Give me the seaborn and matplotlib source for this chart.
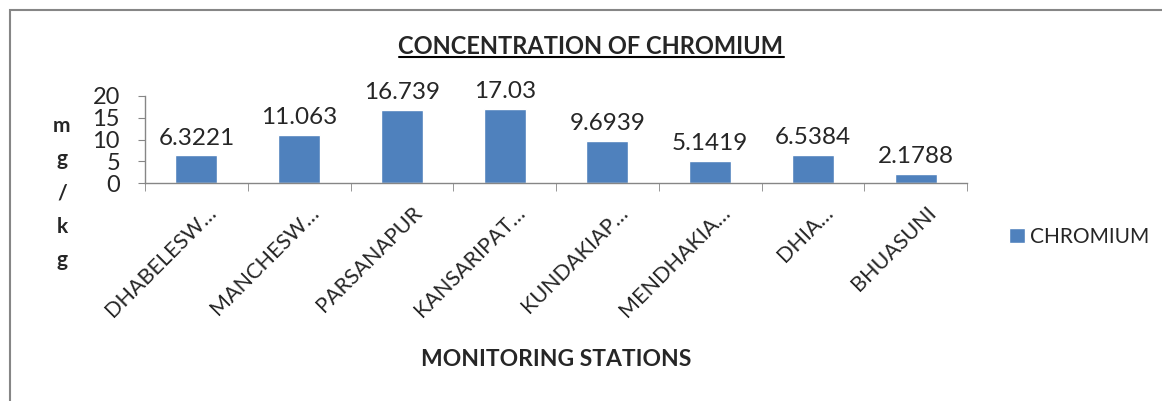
import matplotlib
matplotlib.use("Agg")
import matplotlib.pyplot as plt
import matplotlib.transforms as mtransforms
from matplotlib.patches import Rectangle
from matplotlib.lines import Line2D
import seaborn as sns
import pandas as pd

stations = ["DHABELESW…", "MANCHESW…", "PARSANAPUR", "KANSARIPAT…",
            "KUNDAKIAP…", "MENDHAKIA…", "DHIA…", "BHUASUNI"]
chromium = [6.3221, 11.063, 16.739, 17.03, 9.6939, 5.1419, 6.5384, 2.1788]
series = ["CHROMIUM"] * len(stations)
yticks = [0, 5, 10, 15, 20]

BLUE = "#4F81BD"
GRAY = "#868686"

sns.set_style("white")
plt.rcParams["font.family"] = ["Lato", "DejaVu Sans"]

df = pd.DataFrame({"station": stations, "value": chromium, "series": series})

fig = plt.figure(figsize=(11.62, 4.01), dpi=100)
ax = fig.add_axes([145 / 1162, 1 - 183 / 401, 822 / 1162, 87 / 401])

sns.barplot(data=df, x="station", y="value", hue="series", palette=[BLUE],
            width=0.41, dodge=False, saturation=1, ax=ax, legend=True)

ax.set_ylim(0, 20)
ax.set_yticks(yticks)
ax.set_xlim(-0.5, len(stations) - 0.5)

for s in ["top", "right"]:
    ax.spines[s].set_visible(False)
for s in ["left", "bottom"]:
    ax.spines[s].set_color(GRAY)
    ax.spines[s].set_linewidth(1)

ax.tick_params(axis="y", left=True, length=5, color=GRAY, labelsize=17, pad=13)
ax.set_xticks(range(len(stations)))
ax.set_xticks([i - 0.5 for i in range(len(stations) + 1)], minor=True)
ax.tick_params(axis="x", which="major", bottom=False, length=0, labelsize=15.5, pad=19)
ax.tick_params(axis="x", which="minor", bottom=True, length=6, color=GRAY)
ax.set_xticklabels(stations, rotation=45, ha="right", va="center",
                   rotation_mode="anchor")
shift = mtransforms.ScaledTranslation(0.17, 0, fig.dpi_scale_trans)
for lbl in ax.get_xticklabels():
    lbl.set_transform(lbl.get_transform() + shift)

ax.bar_label(ax.containers[0], fmt="{:g}", padding=5, fontsize=17.5)

ax.set_xlabel("MONITORING STATIONS", fontsize=16.5, fontweight="bold")
ax.xaxis.set_label_coords(0.5, (183 - 359) / 87)
ax.xaxis.label.set_va("center")
ax.set_ylabel("m\ng\n/\nk\ng", rotation=0, fontsize=15, fontweight="bold",
              linespacing=1.85, va="center", ha="center")
ax.yaxis.set_label_coords((62 - 145) / 822, (183 - 193) / 87)

leg = ax.legend(loc="center left", bbox_to_anchor=(1009 / 1162, 1 - 237 / 401),
                bbox_transform=fig.transFigure, frameon=False, fontsize=15,
                handlelength=0.75, handleheight=0.75, handletextpad=0.25,
                borderpad=0, borderaxespad=0)

title = fig.text(591 / 1162, 1 - 47 / 401, "CONCENTRATION OF CHROMIUM",
                 ha="center", va="center", fontsize=17, fontweight="bold")

# outer chart frame (only left and top edges fall inside the image)
fig.add_artist(Rectangle((10 / 1162, -0.1), 1.2, 1 - 10 / 401 + 0.1,
                         transform=fig.transFigure, fill=False,
                         edgecolor=GRAY, linewidth=1.5))

# underline the title
renderer = fig.canvas.get_renderer()
bb = title.get_window_extent(renderer=renderer).transformed(fig.transFigure.inverted())
uy = bb.y0 + 0.004
fig.add_artist(Line2D([bb.x0, bb.x1], [uy, uy], transform=fig.transFigure,
                      color="black", linewidth=1.5))

fig.savefig("out.png", dpi=100)
